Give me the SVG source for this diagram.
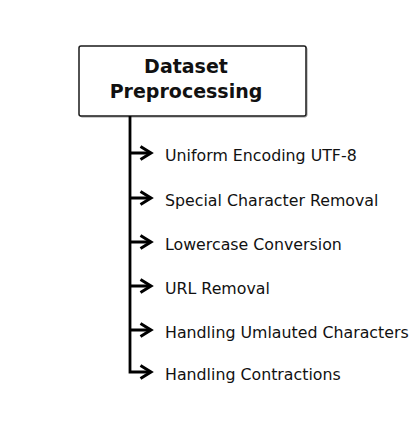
<svg xmlns="http://www.w3.org/2000/svg" width="420" height="436" viewBox="0 0 420 436">
  <defs>
    <style>
      .box { fill: #ffffff; stroke: #1a1a1a; stroke-width: 1.5; }
      .shadow { fill: none; stroke: #9a9a9a; stroke-width: 1; }
      .title { font-family: "DejaVu Sans", Verdana, sans-serif; font-weight: bold; font-size: 19px; fill: #111111; text-anchor: middle; }
      .item { font-family: "DejaVu Sans", Verdana, sans-serif; font-size: 15.8px; fill: #111111; }
      .wire { fill: none; stroke: #000000; stroke-width: 2.8; stroke-linejoin: miter; }
      .head { fill: none; stroke: #000000; stroke-width: 3; stroke-linecap: butt; stroke-linejoin: miter; }
    </style>
  </defs>
  <rect width="420" height="436" fill="#ffffff"/>

  <!-- root node -->
  <g id="node-root">
    <rect class="shadow" x="80" y="47" width="227" height="70" rx="2"/>
    <rect class="box" x="79" y="46" width="227" height="70" rx="2"/>
    <text class="title" x="186" y="73">Dataset</text>
    <text class="title" x="186" y="98">Preprocessing</text>
  </g>

  <!-- connectors: trunk with branches -->
  <g id="connectors">
    <path class="wire" d="M130,116 V372 H150"/>
    <path class="wire" d="M130,153 H150 M130,198 H150 M130,242 H150 M130,286 H150 M130,330 H150"/>
    <path class="head" d="M140.5,146.5 L151,153 L140.5,159.5"/>
    <path class="head" d="M140.5,191.5 L151,198 L140.5,204.5"/>
    <path class="head" d="M140.5,235.5 L151,242 L140.5,248.5"/>
    <path class="head" d="M140.5,279.5 L151,286 L140.5,292.5"/>
    <path class="head" d="M140.5,323.5 L151,330 L140.5,336.5"/>
    <path class="head" d="M140.5,365.5 L151,372 L140.5,378.5"/>
  </g>

  <g id="node-utf8"><text class="item" x="165" y="160.5">Uniform Encoding UTF-8</text></g>
  <g id="node-special"><text class="item" x="165" y="205.5">Special Character Removal</text></g>
  <g id="node-lowercase"><text class="item" x="165" y="249.5">Lowercase Conversion</text></g>
  <g id="node-url"><text class="item" x="165" y="293.5">URL Removal</text></g>
  <g id="node-umlaut"><text class="item" x="165" y="337.5">Handling Umlauted Characters</text></g>
  <g id="node-contractions"><text class="item" x="165" y="379.5">Handling Contractions</text></g>
</svg>
